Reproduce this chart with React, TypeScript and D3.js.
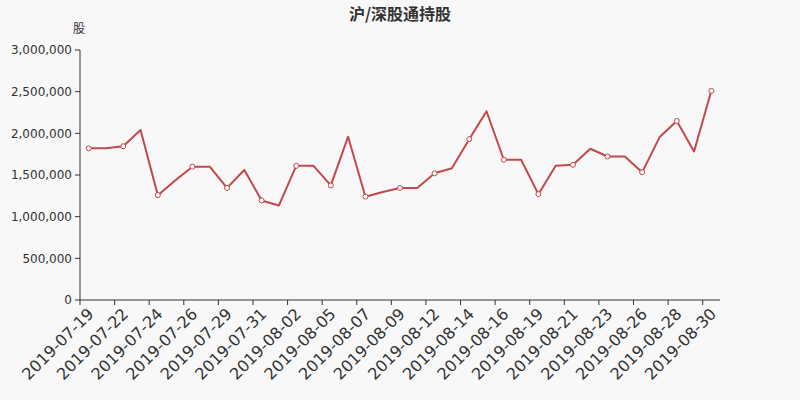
import React from "react";
import * as d3 from "d3";

const dates = [
  "2019-07-19", "2019-07-20", "2019-07-22", "2019-07-23", "2019-07-24", "2019-07-25",
  "2019-07-26", "2019-07-27", "2019-07-29", "2019-07-30", "2019-07-31", "2019-08-01",
  "2019-08-02", "2019-08-03", "2019-08-05", "2019-08-06", "2019-08-07", "2019-08-08",
  "2019-08-09", "2019-08-10", "2019-08-12", "2019-08-13", "2019-08-14", "2019-08-15",
  "2019-08-16", "2019-08-17", "2019-08-19", "2019-08-20", "2019-08-21", "2019-08-22",
  "2019-08-23", "2019-08-24", "2019-08-26", "2019-08-27", "2019-08-28", "2019-08-29",
  "2019-08-30",
];

const holdings = [
  1820000, 1820000, 1845000, 2040000, 1258000, 1435000,
  1600000, 1600000, 1345000, 1560000, 1195000, 1135000,
  1610000, 1610000, 1375000, 1960000, 1240000, 1295000,
  1345000, 1345000, 1520000, 1580000, 1930000, 2265000,
  1683000, 1683000, 1270000, 1612000, 1622000, 1815000,
  1722000, 1722000, 1532000, 1952000, 2148000, 1783000,
  2510000,
];

const yTicks = [0, 500000, 1000000, 1500000, 2000000, 2500000, 3000000];

const title = "沪/深股通持股";
const yUnit = "股";

const W = 800;
const H = 400;
const left = 80;
const right = 720;
const top = 50;
const bottom = 300;

export default function App() {
  const x = d3.scaleBand<string>().domain(dates).range([left, right]).padding(0);
  const y = d3.scaleLinear().domain([0, 3000000]).range([bottom, top]);
  const cx = (d: string) => (x(d) as number) + x.bandwidth() / 2;
  const line = d3
    .line<number>()
    .x((_, i) => cx(dates[i]))
    .y((v) => y(v));
  const fmt = d3.format(",");
  const color = "#c4484a";
  const axisColor = "#333";
  const font = "'DejaVu Sans', sans-serif";

  return (
    <svg width={W} height={H} style={{ display: "block", position: "absolute", left: 0, top: 0, background: "#f8f8f8" }}>
      <rect x={0} y={0} width={W} height={H} fill="#f8f8f8" />
      <text x={400} y={20} textAnchor="middle" fontFamily="'Noto Sans CJK SC', sans-serif" fontWeight="bold" fontSize={16} fill="#333">
        {title}
      </text>
      <text x={79} y={33} textAnchor="middle" fontFamily="'Noto Sans CJK SC', sans-serif" fontSize={12} fill="#333">
        {yUnit}
      </text>
      {/* y axis */}
      <line x1={left} x2={left} y1={top} y2={bottom} stroke={axisColor} strokeWidth={1} />
      {yTicks.map((t) => (
        <g key={t}>
          <line x1={left - 5} x2={left} y1={y(t)} y2={y(t)} stroke={axisColor} />
          <text x={left - 8} y={y(t)} dy="0.35em" textAnchor="end" fontFamily={font} fontSize={12} fill="#333">
            {fmt(t)}
          </text>
        </g>
      ))}
      {/* x axis */}
      <line x1={left} x2={right} y1={bottom} y2={bottom} stroke={axisColor} />
      {dates.map((d, i) =>
        i % 2 === 0 ? (
          <g key={d}>
            <line x1={x(d) as number} x2={x(d) as number} y1={bottom} y2={bottom + 5} stroke={axisColor} />
            <text
              transform={`translate(${cx(d) + 2},${bottom + 11}) rotate(-45)`}
              textAnchor="end"
              dy="0.35em"
              fontFamily={font}
              fontSize={16}
              fill="#333"
            >
              {d}
            </text>
          </g>
        ) : null
      )}
      <path d={line(holdings) || ""} fill="none" stroke={color} strokeWidth={2} strokeLinejoin="round" />
      {holdings.map((v, i) =>
        i % 2 === 0 ? (
          <circle key={i} cx={cx(dates[i])} cy={y(v)} r={2.5} fill="#fff" stroke={color} strokeWidth={1} />
        ) : null
      )}
    </svg>
  );
}
